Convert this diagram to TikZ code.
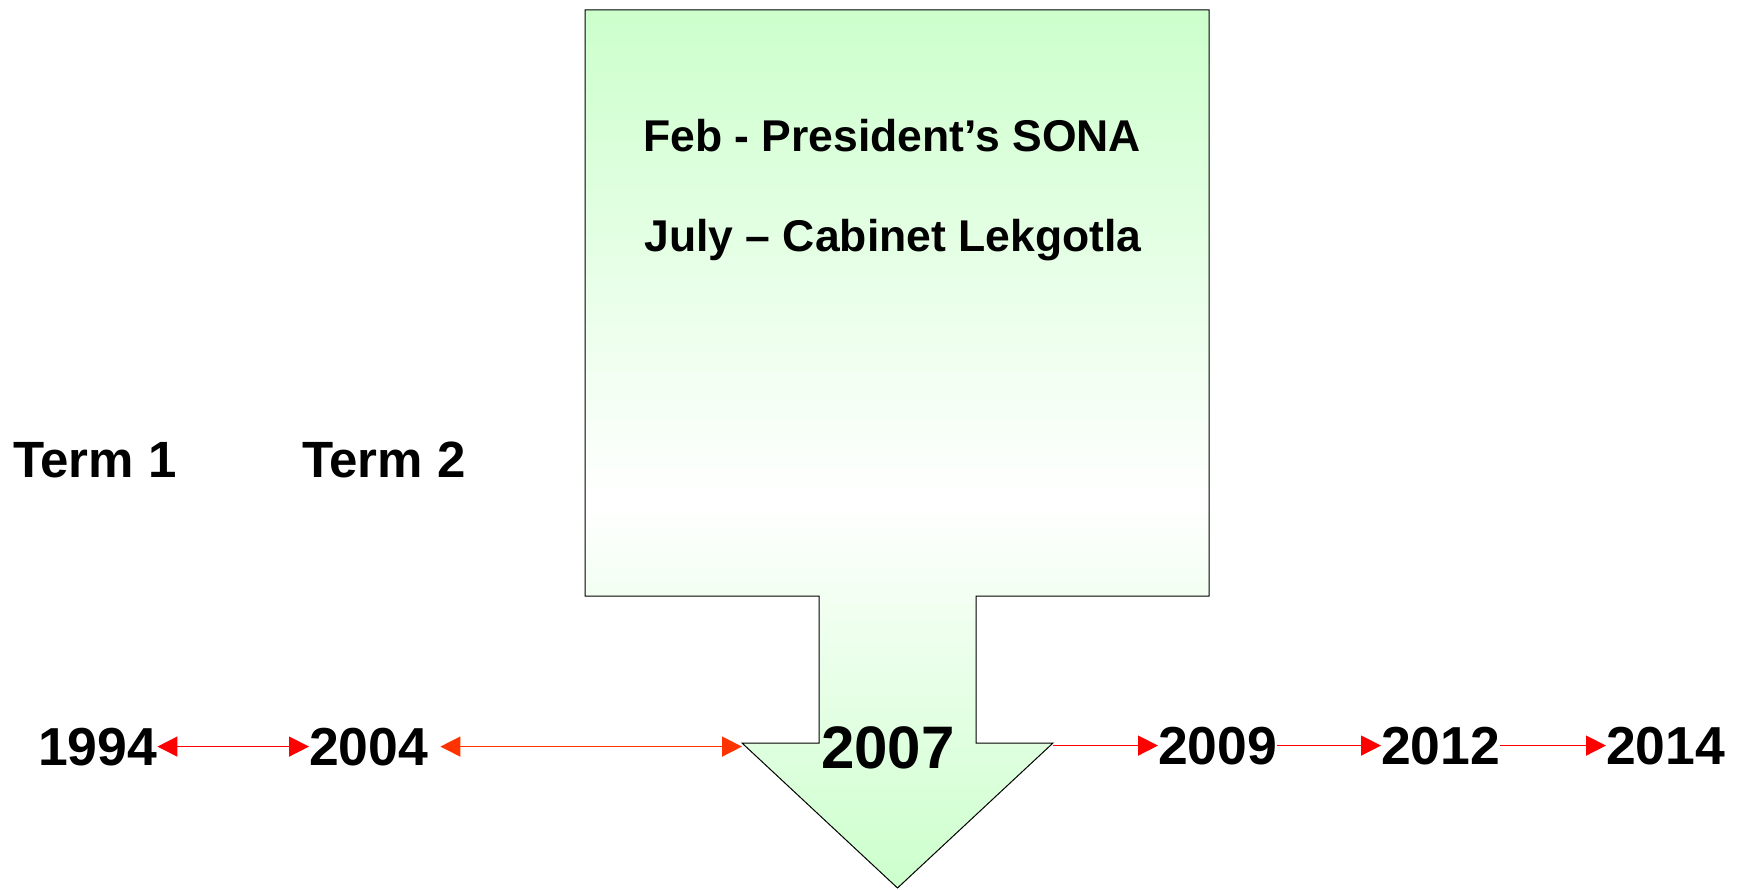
\documentclass[tikz,border=0pt]{standalone}
\usepackage{fontspec}
\setmainfont{Liberation Sans}
\usepackage{tikz}
\usetikzlibrary{arrows.meta, positioning, calc}
\definecolor{sonagreen}{RGB}{204, 255, 204}
\definecolor{lineRed}{RGB}{255, 0, 0}
\definecolor{lineOrange}{RGB}{255, 51, 0}
\pgfdeclareverticalshading{sonafade}{100bp}{color(0bp)=(sonagreen); color(25bp)=(sonagreen);
  color(47bp)=(white); color(75bp)=(sonagreen); color(100bp)=(sonagreen)}

\begin{document}
\begin{tikzpicture}[x=1pt, y=-1pt,
  year/.style={font=\bfseries\fontsize{53.5}{62}\selectfont, inner sep=0pt, anchor=base west},
  term/.style={font=\bfseries\fontsize{51}{60}\selectfont, inner sep=0pt, anchor=base west},
  event/.style={font=\bfseries\fontsize{44.5}{52}\selectfont, inner sep=0pt, anchor=base},
  link/.style={line width=1.5pt, arrows={-Triangle[length=20pt, width=20pt]}},
  twolink/.style={line width=1.5pt, arrows={Triangle[length=20pt, width=20pt]-Triangle[length=20pt, width=20pt]}}]
\useasboundingbox (0,0) rectangle (1746,890);

% big arrow callout
\shadedraw[line width=1pt, shading=sonafade]
  (585,10) -- (1209,10) -- (1209,596) -- (976,596) -- (976,743) -- (1053,743)
  -- (897.5,888) -- (742,743) -- (819,743) -- (819,596) -- (585,596) -- cycle;
\coordinate (headL) at (742,743);
\coordinate (headR) at (1053,743);

\node[event] (feb) at (892,152) {Feb - President’s SONA};
\node[event] (july) at (893,252) {July – Cabinet Lekgotla};

\node[term] (term1) at (13,477) {Term 1};
\node[term] (term2) at (302,477) {Term 2};

% timeline
\node[year] (y1994) at (38,765) {1994};
\node[year] (y2004) at (309,765) {2004};
\node[font=\bfseries\fontsize{60}{68}\selectfont, inner sep=0pt, anchor=base] (y2007) at (888,768) {2007};
\node[year] (y2009) at (1158,764) {2009};
\node[year] (y2012) at (1381,764) {2012};
\node[year] (y2014) at (1606,764) {2014};

\draw[twolink, lineRed] (y1994.east) -- (y2004.west);
\draw[twolink, lineOrange, shorten <=12pt] (y2004.east) -- (headL |- y2004.east);
\draw[link, lineRed] (headR |- y2009.west) -- (y2009.west);
\draw[link, lineRed] (y2009.east) -- (y2012.west);
\draw[link, lineRed] (y2012.east) -- (y2014.west);
\end{tikzpicture}
\end{document}
